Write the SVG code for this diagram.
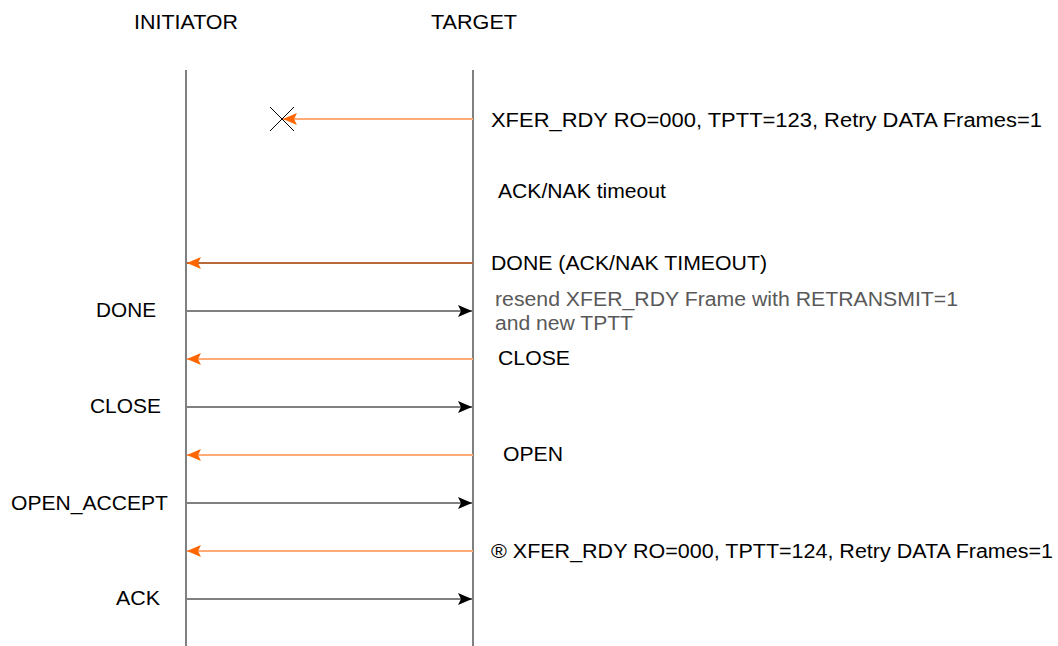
<svg xmlns="http://www.w3.org/2000/svg" width="1058" height="646" viewBox="0 0 1058 646">
<style>
text{font-family:"Liberation Sans",Arial,sans-serif;font-size:20px;fill:#000}
.gray{fill:#595959}
.life{stroke:#808080;stroke-width:2;fill:none}
.ol{stroke:#FFAA77;stroke-width:2;fill:none}
.bl{stroke:#B8693A;stroke-width:2;fill:none}
.kl{stroke:#808080;stroke-width:2;fill:none}
</style>
<defs>
<marker id="ho" markerWidth="14" markerHeight="12" refX="14" refY="6" orient="auto" markerUnits="userSpaceOnUse"><path d="M0,0 L14,6 L0,12 L3,6 Z" fill="#FF6600"/></marker>
<marker id="hk" markerWidth="14" markerHeight="12" refX="14" refY="6" orient="auto" markerUnits="userSpaceOnUse"><path d="M0,0 L14,6 L0,12 L3,6 Z" fill="#000"/></marker>
</defs>
<g id="initiator"><text x="134" y="29" textLength="104" lengthAdjust="spacingAndGlyphs">INITIATOR</text><line class="life" x1="186" y1="70" x2="186" y2="646"/></g>
<g id="target"><text x="431" y="29" textLength="86" lengthAdjust="spacingAndGlyphs">TARGET</text><line class="life" x1="473" y1="70" x2="473" y2="646"/></g>
<g id="connectors">
<line class="ol" x1="473" y1="119" x2="283" y2="119" marker-end="url(#ho)"/>
<line x1="270" y1="107" x2="294" y2="131" stroke="#000" stroke-width="1"/>
<line x1="294" y1="107" x2="270" y2="131" stroke="#000" stroke-width="1"/>
<line class="bl" x1="473" y1="263" x2="187" y2="263" marker-end="url(#ho)"/>
<line class="kl" x1="186" y1="311" x2="472" y2="311" marker-end="url(#hk)"/>
<line class="ol" x1="473" y1="359" x2="187" y2="359" marker-end="url(#ho)"/>
<line class="kl" x1="186" y1="407" x2="472" y2="407" marker-end="url(#hk)"/>
<line class="ol" x1="473" y1="455" x2="187" y2="455" marker-end="url(#ho)"/>
<line class="kl" x1="186" y1="503" x2="472" y2="503" marker-end="url(#hk)"/>
<line class="ol" x1="473" y1="551" x2="187" y2="551" marker-end="url(#ho)"/>
<line class="kl" x1="186" y1="599" x2="472" y2="599" marker-end="url(#hk)"/>
</g>
<g id="labels">
<text x="491" y="127" textLength="551" lengthAdjust="spacingAndGlyphs">XFER_RDY RO=000, TPTT=123, Retry DATA Frames=1</text>
<text x="498" y="198" textLength="168" lengthAdjust="spacingAndGlyphs">ACK/NAK timeout</text>
<text x="491" y="270" textLength="276" lengthAdjust="spacingAndGlyphs">DONE (ACK/NAK TIMEOUT)</text>
<text x="495" y="306" class="gray" textLength="463" lengthAdjust="spacingAndGlyphs">resend XFER_RDY Frame with RETRANSMIT=1</text>
<text x="495" y="330" class="gray" textLength="138" lengthAdjust="spacingAndGlyphs">and new TPTT</text>
<text x="498" y="365" textLength="72" lengthAdjust="spacingAndGlyphs">CLOSE</text>
<text x="503" y="461" textLength="60" lengthAdjust="spacingAndGlyphs">OPEN</text>
<text x="491" y="558" textLength="562" lengthAdjust="spacingAndGlyphs">® XFER_RDY RO=000, TPTT=124, Retry DATA Frames=1</text>
<text x="96" y="317" textLength="60" lengthAdjust="spacingAndGlyphs">DONE</text>
<text x="90" y="413" textLength="71" lengthAdjust="spacingAndGlyphs">CLOSE</text>
<text x="11" y="510" textLength="157" lengthAdjust="spacingAndGlyphs">OPEN_ACCEPT</text>
<text x="116" y="605" textLength="44" lengthAdjust="spacingAndGlyphs">ACK</text>
</g>
</svg>
